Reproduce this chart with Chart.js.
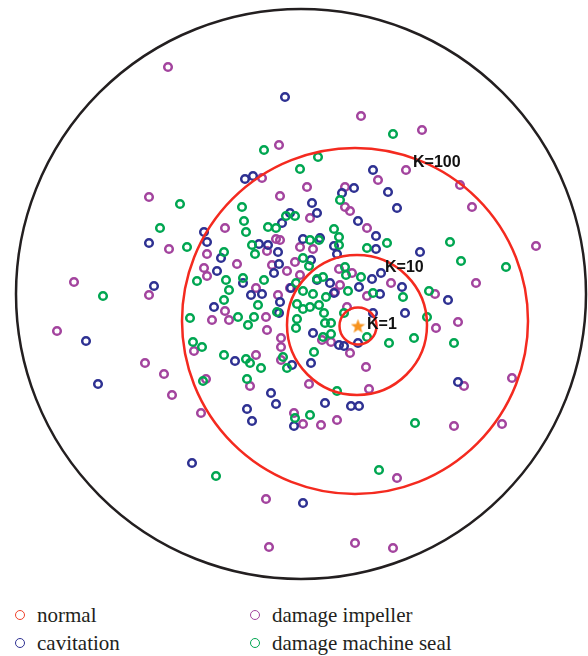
<!DOCTYPE html>
<html>
<head>
<meta charset="utf-8">
<script src="https://cdn.jsdelivr.net/npm/chart.js@4.4.1/dist/chart.umd.min.js"></script>
<style>
  html, body { margin: 0; padding: 0; background: #fff; }
  #wrap { position: relative; width: 588px; height: 656px; }
  #chart { position: absolute; left: 0; top: 0; }
  #legend { position: absolute; left: 0; top: 600px; width: 588px; height: 56px;
            font-family: 'Liberation Serif', 'DejaVu Serif', serif; font-size: 21px; color: #231f20; }
  .item { position: absolute; display: flex; align-items: center; white-space: nowrap; height: 24px; }
  .ring { width: 8px; height: 8px; border-radius: 50%; border: 1.6px solid; margin-right: 12px; }
</style>
</head>
<body>
<div id="wrap">
  <canvas id="chart" width="588" height="590"></canvas>
  <div id="legend"></div>
</div>
<script>
// coordonnées : origine sur l'étoile (centre de la classe normale)
const classNames = ['normal', 'cavitation', 'damage impeller', 'damage machine seal'];
const classColors = ['#f0412b', '#2e3192', '#a3449e', '#00a651'];

const normalPts = [];
const normalCenter = [[0, 0]];

const cavitation = [
  [-7.3, 22.9], [-11.3, 14.7], [-10.5, 15.0], [1.5, 15.6], [3.0, 13.4], [3.9, 11.8],
  [-0.4, 13.8], [-1.6, 13.3], [-4.6, 12.3], [-4.1, 11.3], [0.0, 10.5], [1.8, 9.0],
  [1.8, 7.7], [6.2, 7.4], [-20.9, 8.3], [-15.4, 9.4], [-15.1, 8.4], [-13.7, 6.8],
  [-14.1, 5.5], [-20.4, 4.0], [-11.5, 4.3], [-8.4, 5.3], [-7.9, 6.2], [-8.0, 7.4],
  [-9.9, 8.2], [-9.0, 8.1], [-7.6, 10.3], [-6.8, 11.3], [-5.5, 8.7], [-3.8, 8.8],
  [-2.4, 8.0], [-2.1, 7.2], [-4.7, 6.6], [0.1, 3.9], [1.4, 4.7], [2.3, 5.3],
  [4.4, 3.9], [9.0, 2.6], [-2.8, 4.3], [-2.4, 3.3], [2.2, 3.2], [-6.7, 3.8],
  [-10.7, 3.1], [-9.6, 3.2], [-14.4, 1.9], [-7.9, 1.3], [-4.5, -0.7], [-1.9, -1.9],
  [-1.4, -2.0], [0.0, -1.7], [1.5, 1.3], [4.7, 1.3], [-4.7, -3.7], [-6.6, -3.9],
  [-12.3, -3.5], [-27.2, -1.5], [-26.0, -5.8], [-8.7, -6.7], [-8.2, -7.8], [-11.1, -8.3],
  [-10.6, -9.5], [-3.3, -7.7], [-0.7, -8.0], [0.1, -8.0], [-6.4, -10.0], [10.0, -5.6],
  [-16.6, -13.7], [-5.5, -17.7], [-7.8, 2.4], [-4.1, 4.6]
];

const impeller = [
  [-19.0, 25.9], [0.3, 21.0], [6.4, 19.6], [-7.9, 18.1], [-9.6, 14.8], [-5.1, 13.9],
  [-1.3, 13.9], [2.0, 14.6], [4.8, 15.6], [10.2, 14.1], [11.4, 11.9], [-7.8, 13.0],
  [-1.3, 11.9], [-0.8, 11.5], [-4.8, 10.8], [0.9, 9.8], [-20.9, 12.9], [-13.3, 9.8],
  [-18.9, 7.7], [-15.1, 7.2], [-15.4, 5.8], [-15.1, 5.0], [-12.1, 6.2], [-28.4, 4.4],
  [-20.9, 3.1], [17.8, 8.0], [11.8, 4.3], [-8.2, 8.7], [-7.8, 8.6], [-9.1, 7.5],
  [-8.6, 6.1], [-7.1, 5.5], [-5.8, 7.9], [-4.5, 7.7], [-6.3, 6.4], [-5.8, 5.1],
  [-1.9, 5.7], [-0.6, 5.3], [3.3, 4.3], [7.7, 3.2], [-1.8, 4.1], [0.9, 3.0],
  [-8.0, 3.1], [-10.2, 3.8], [-13.3, 1.5], [-14.6, 0.6], [-12.9, 0.6], [-9.2, 0.9],
  [-9.1, -0.4], [-3.6, -1.4], [-2.7, -1.6], [-1.1, 1.9], [7.8, -0.2], [10.0, 0.4],
  [-0.8, -2.7], [0.8, -4.1], [-4.9, -5.8], [1.1, -6.3], [-7.7, -1.2], [-7.7, -2.1],
  [-10.2, -2.9], [-7.7, -3.4], [-10.8, -6.0], [-15.2, -5.3], [-16.4, -2.5], [-30.1, -0.5],
  [-21.3, -3.7], [-19.4, -4.8], [-18.6, -6.9], [-15.7, -8.7], [-6.4, -8.7], [-5.5, -9.8],
  [-3.7, -9.9], [-2.1, -9.4], [9.6, -10.0], [14.4, -9.8], [10.6, -6.0], [15.4, -5.2],
  [3.9, -15.2], [-9.2, -17.3], [-8.9, -22.1], [-0.3, -21.7], [3.5, -22.2], [-6.8, 3.8],
  [-2.3, 3.4]
];

const machineSeal = [
  [3.5, 19.2], [-9.4, 17.6], [-4.0, 16.9], [-5.8, 15.7], [-1.8, 12.6], [-11.6, 11.9],
  [-17.8, 12.2], [-11.4, 10.5], [-11.2, 9.4], [2.9, 8.3], [0.9, 7.8], [9.2, 8.4],
  [10.3, 6.5], [14.8, 5.9], [-19.8, 9.8], [-17.1, 7.9], [-13.4, 7.4], [-16.1, 4.5],
  [-25.5, 3.0], [-13.2, 4.6], [-11.5, 4.8], [-12.9, 3.6], [-13.4, 2.6], [-9.4, 4.6],
  [-10.6, 8.1], [-10.3, 7.2], [-9.0, 9.9], [-8.2, 9.8], [-7.2, 11.0], [-6.3, 11.0],
  [-4.8, 8.6], [-3.9, 8.6], [-2.4, 9.7], [-1.9, 8.9], [-1.9, 8.1], [-5.5, 6.8],
  [-4.9, 6.0], [-4.1, 4.7], [-3.5, 4.9], [-1.2, 5.1], [0.3, 4.9], [7.1, 3.5],
  [-1.0, 3.5], [1.5, 3.3], [4.5, 2.9], [-3.2, 2.9], [-5.5, 3.5], [-6.2, 4.3],
  [-4.5, 3.2], [-16.8, 0.8], [-12.0, 0.9], [-11.0, 0.1], [-10.4, 0.9], [-10.0, 2.1],
  [-8.1, 1.4], [-6.1, 2.2], [-5.5, 1.7], [-4.8, 1.9], [-3.9, 2.1], [-3.4, 1.3],
  [-6.1, 0.7], [-6.2, -0.2], [-3.3, 0.3], [-2.7, 0.3], [-3.5, -1.1], [-2.7, -0.8],
  [0.9, -1.1], [-1.4, 1.3], [6.9, 0.9], [3.1, -1.7], [5.6, -1.2], [9.6, -1.7],
  [-4.4, -2.6], [-2.1, -6.5], [-7.5, -3.1], [-7.1, -4.2], [-13.4, -2.9], [-11.2, -3.3],
  [-10.8, -3.7], [-9.7, -4.2], [-11.1, -5.3], [-15.5, -5.5], [-16.5, -1.6], [-15.6, -2.1],
  [-6.3, -9.2], [-4.8, -8.9], [5.7, -9.7], [-14.2, -15.0], [2.1, -14.4], [-1.3, 5.9]
];

// cercles K autour du centre normal
const kLabels = ['K=1', 'K=10', 'K=100'];
const kCenters = [[0, 0], [-0.1, 0.1], [-0.3, 0.5]];
const kRadii = [1.85, 7.0, 17.3];
// frontière extérieure
const boundaryCenter = [-5.7, 3.2];
const boundaryRadius = 28.5;

function toXY(arr) {
  return arr.map(p => ({ x: p[0], y: p[1] }));
}

// étoile orange pour le centre
function makeStar(size, color) {
  const c = document.createElement('canvas');
  c.width = size; c.height = size;
  const g = c.getContext('2d');
  const cx = size / 2, cy = size / 2 + 0.6, ro = size / 2, ri = ro * 0.42;
  g.beginPath();
  for (let i = 0; i < 10; i++) {
    const r = i % 2 === 0 ? ro : ri;
    const a = -Math.PI / 2 + i * Math.PI / 5;
    g.lineTo(cx + r * Math.cos(a), cy + r * Math.sin(a));
  }
  g.closePath();
  g.fillStyle = color;
  g.fill();
  return c;
}

const circlesPlugin = {
  id: 'circles',
  afterDatasetsDraw(chart) {
    const { ctx, scales: { x, y } } = chart;
    const px = v => x.getPixelForValue(v);
    const py = v => y.getPixelForValue(v);
    const pr = (cx, r) => px(cx + r) - px(cx);

    ctx.save();
    ctx.lineWidth = 2.5;
    ctx.strokeStyle = '#231f20';
    ctx.beginPath();
    ctx.arc(px(boundaryCenter[0]), py(boundaryCenter[1]), pr(boundaryCenter[0], boundaryRadius), 0, Math.PI * 2);
    ctx.stroke();

    ctx.strokeStyle = '#f42a1f';
    ctx.lineWidth = 2.5;
    kRadii.forEach((r, i) => {
      const c = kCenters[i];
      ctx.beginPath();
      ctx.arc(px(c[0]), py(c[1]), pr(c[0], r), 0, Math.PI * 2);
      ctx.stroke();
    });

    // étiquettes K
    const labelPos = [[0.9, 0.1], [2.7, 5.8], [5.5, 16.3]];
    ctx.fillStyle = '#111';
    ctx.font = 'bold 16px "Liberation Sans", Arial, sans-serif';
    ctx.textAlign = 'left';
    ctx.textBaseline = 'middle';
    kLabels.forEach((t, i) => {
      ctx.fillText(t, px(labelPos[i][0]), py(labelPos[i][1]));
    });
    ctx.restore();
  }
};

const ring = (label, data, color) => ({
  label,
  data: toXY(data),
  pointStyle: 'circle',
  pointRadius: 3.8,
  pointBorderWidth: 2.5,
  pointBackgroundColor: 'rgba(0,0,0,0)',
  borderColor: color,
  showLine: false
});

const ctx = document.getElementById('chart');
const chart = new Chart(ctx, {
  type: 'scatter',
  data: {
    datasets: [
      {
        label: 'centre',
        data: toXY(normalCenter),
        pointStyle: makeStar(15, '#f7931e'),
        pointRadius: 7,
        showLine: false
      },
      ring(classNames[0], normalPts, classColors[0]),
      ring(classNames[3], machineSeal, classColors[3]),
      ring(classNames[1], cavitation, classColors[1]),
      ring(classNames[2], impeller, classColors[2])
    ]
  },
  options: {
    responsive: false,
    animation: false,
    layout: { padding: 0, autoPadding: false },
    plugins: { legend: { display: false }, tooltip: { enabled: false } },
    scales: {
      x: { type: 'linear', min: -35.8, max: 23.0, display: false },
      y: { type: 'linear', min: -26.4, max: 32.6, display: false }
    }
  },
  plugins: [circlesPlugin]
});

// légende en deux colonnes
const legendOrder = [0, 2, 1, 3];
const colX = [15, 250];
const rowY = [3, 31];
const legend = document.getElementById('legend');
legendOrder.forEach((k, i) => {
  const item = document.createElement('div');
  item.className = 'item';
  item.style.left = colX[i % 2] + 'px';
  item.style.top = rowY[Math.floor(i / 2)] + 'px';
  item.innerHTML = `<span class="ring" style="border-color:${classColors[k]}"></span><span>${classNames[k]}</span>`;
  legend.appendChild(item);
});
</script>
</body>
</html>
